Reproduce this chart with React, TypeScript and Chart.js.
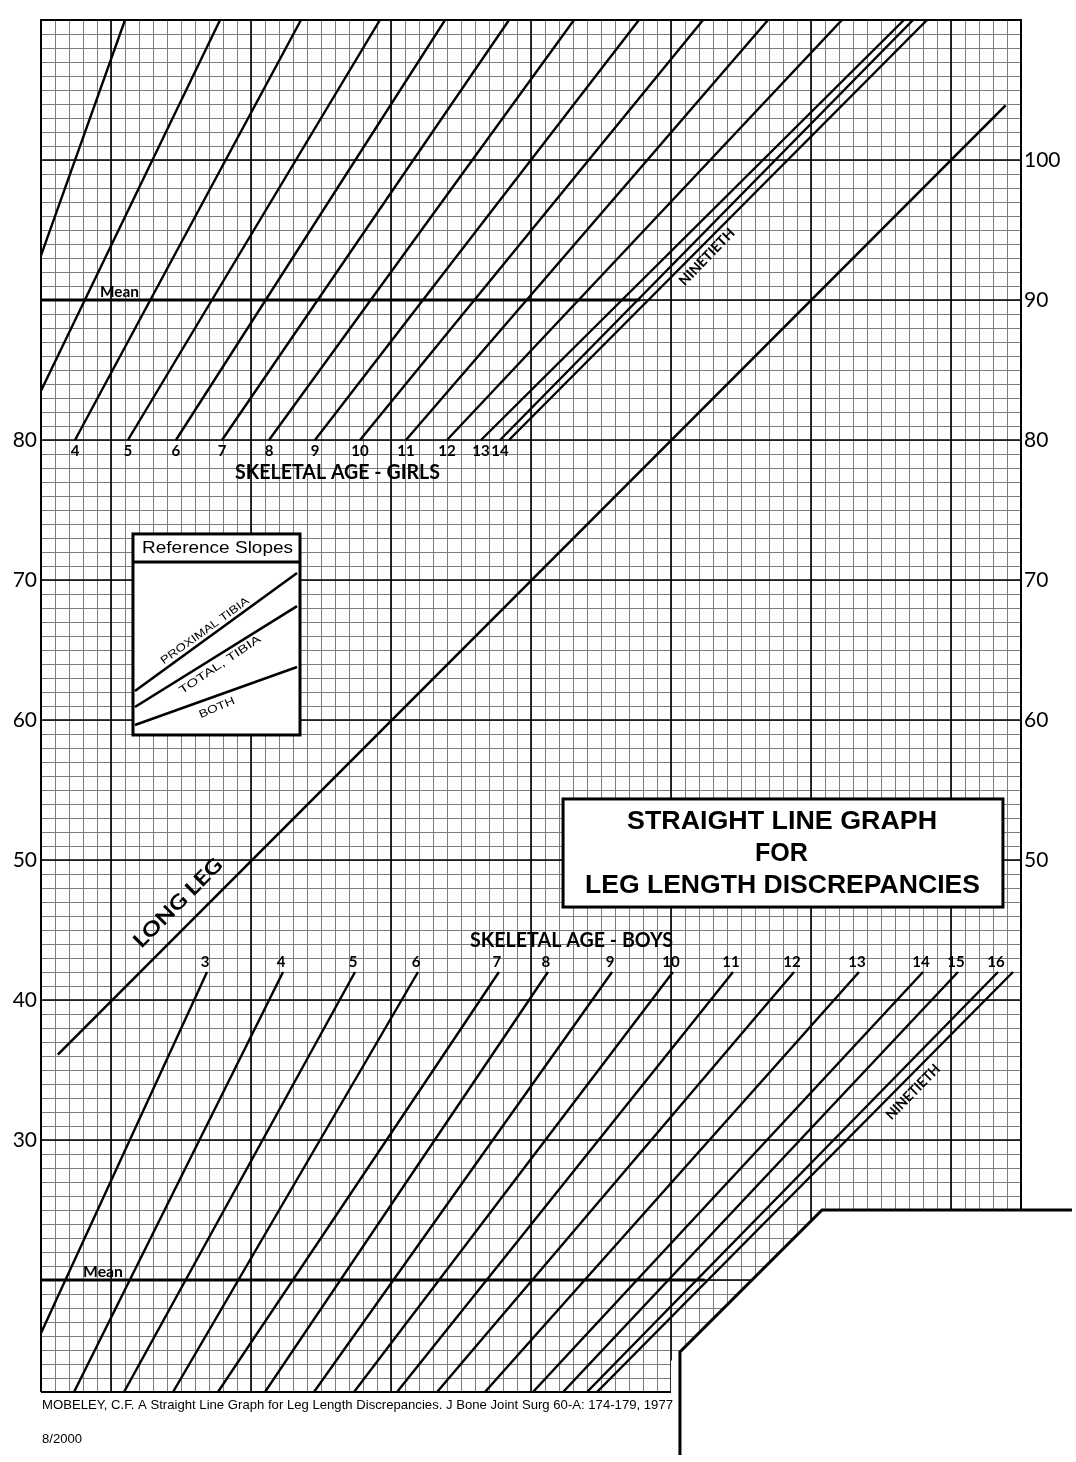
import { useEffect, useRef } from "react";
import { Chart, registerables } from "chart.js";

Chart.register(...registerables);

// ---- axis ranges (units of the Moseley graph) ----
const X_MIN = 35;
const X_MAX = 105;
const Y_MIN = 12;
const Y_MAX = 110;

const leftTickLabels = [80, 70, 60, 50, 40, 30];
const rightTickLabels = [100, 90, 80, 70, 60, 50];
const majorGridX = [40, 50, 60, 70, 80, 90, 100];
const majorGridY = [20, 30, 40, 50, 60, 70, 80, 90, 100];

// ---- Girls skeletal-age lines: x where each line meets y=80 and y=110 ----
const girlsAgeLabels = ["", "", "4", "5", "6", "7", "8", "9", "10", "11", "12", "13", "14", ""];
const girlsX80 = [30.3, 33.3, 37.43, 41.21, 44.64, 47.93, 51.29, 54.57, 57.79, 61.07, 64.0, 66.43, 67.79, 68.43];
const girlsX110 = [41.0, 47.79, 53.57, 59.21, 63.86, 68.43, 73.07, 77.71, 82.29, 86.93, 92.21, 96.64, 97.29, 98.29];

// ---- Boys skeletal-age lines: x where each line meets y=42 and y=12 ----
const boysAgeLabels = ["3", "4", "5", "6", "7", "8", "9", "10", "11", "12", "13", "14", "15", "16", ""];
const boysX42 = [46.86, 52.29, 57.43, 61.93, 67.71, 71.21, 75.79, 80.14, 84.43, 88.79, 93.43, 98.0, 100.5, 103.36, 104.43];
const boysX12 = [33.07, 37.36, 40.93, 44.43, 47.64, 51.0, 54.5, 57.36, 60.43, 63.29, 66.71, 70.14, 72.29, 74.0, 74.71];

// ---- Long leg line ----
const longLegX = [36.2, 103.9];
const longLegY = [36.1, 103.9];

// ---- Mean lines (girls, boys) ----
const meanY = [90, 20];
const meanEndX = [77.8, 82.4];

// ---- Reference slopes (inside legend box) ----
const refSlopeNames = ["PROXIMAL TIBIA", "TOTAL, TIBIA", "BOTH"];
const refSlopeX = [41.71, 53.29];
const refSlopeY0 = [62.07, 60.93, 59.64];
const refSlopeY1 = [70.5, 68.14, 63.79];

// ---- Cut-out corner boundary ----
const cutX = [80.64, 80.64, 90.79, 108.64];
const cutY = [7.5, 14.86, 25.0, 25.0];

type Txt = { t: string; x: number; y: number; font: string; w?: number; angle?: number; align?: CanvasTextAlign };

const texts: Txt[] = [
  { t: "Mean", x: 40.61, y: 90.57, font: "bold 15px Lato", w: 39 },
  { t: "Mean", x: 39.43, y: 20.57, font: "bold 15px Lato", w: 40 },
  { t: "SKELETAL AGE - GIRLS", x: 56.18, y: 77.71, font: "bold 21px Lato", w: 205 },
  { t: "SKELETAL AGE - BOYS", x: 72.89, y: 44.29, font: "bold 21px Lato", w: 203 },
  { t: "LONG LEG", x: 44.79, y: 46.93, font: "bold 20px Lato", w: 117, angle: -45 },
  { t: "NINETIETH", x: 82.57, y: 93.07, font: "bold 14px Lato", w: 73, angle: -46 },
  { t: "NINETIETH", x: 97.29, y: 33.43, font: "bold 14px Lato", w: 71, angle: -45.6 },
  { t: "STRAIGHT LINE GRAPH", x: 87.93, y: 52.71, font: "bold 25px 'Liberation Sans'", w: 310 },
  { t: "FOR", x: 87.89, y: 50.43, font: "bold 25px 'Liberation Sans'", w: 53 },
  { t: "LEG LENGTH DISCREPANCIES", x: 87.96, y: 48.14, font: "bold 25px 'Liberation Sans'", w: 395 },
  { t: "Reference Slopes", x: 47.61, y: 72.29, font: "17px 'Liberation Sans'", w: 151 },
  { t: refSlopeNames[0], x: 46.71, y: 66.36, font: "11px 'Liberation Sans'", w: 106, angle: -35.8 },
  { t: refSlopeNames[1], x: 47.79, y: 63.93, font: "11px 'Liberation Sans'", w: 96, angle: -34 },
  { t: refSlopeNames[2], x: 47.57, y: 60.86, font: "11px 'Liberation Sans'", w: 38, angle: -23 },
  {
    t: "MOBELEY, C.F. A Straight Line Graph for Leg Length Discrepancies. J Bone Joint Surg 60-A: 174-179, 1977",
    x: 35.07, y: 11.07, font: "13px 'Liberation Sans'", w: 631, align: "left",
  },
  { t: "8/2000", x: 35.07, y: 8.64, font: "13px 'Liberation Sans'", w: 40, align: "left" },
];

// boxes in data coords: [x0, x1, y0, y1]
const refBox = [41.57, 53.5, 58.93, 73.29];
const refBoxDivider = 71.29;
const titleBox = [72.29, 103.71, 46.64, 54.36];

function drawText(ctx: CanvasRenderingContext2D, s: string, x: number, y: number, font: string, w?: number, angle = 0, align: CanvasTextAlign = "center") {
  ctx.save();
  ctx.font = font;
  ctx.fillStyle = "#000";
  ctx.textBaseline = "middle";
  ctx.textAlign = align;
  ctx.translate(x, y);
  if (angle) ctx.rotate((angle * Math.PI) / 180);
  if (w) {
    const m = ctx.measureText(s).width;
    ctx.scale(w / m, 1);
  }
  ctx.fillText(s, 0, 0);
  ctx.restore();
}

const gridPlugin = {
  id: "moseleyGrid",
  beforeDraw(chart: any) {
    const { ctx } = chart;
    ctx.save();
    ctx.fillStyle = "#fff";
    ctx.fillRect(0, 0, chart.width, chart.height);
    ctx.restore();
  },
  beforeDatasetsDraw(chart: any) {
    const { ctx } = chart;
    const xs = chart.scales.x;
    const ys = chart.scales.y;
    const px = (v: number) => xs.getPixelForValue(v);
    const py = (v: number) => ys.getPixelForValue(v);
    const sn = (p: number) => Math.round(p) + 0.5;
    ctx.save();
    // minor grid
    ctx.strokeStyle = "#7c7c7c";
    ctx.lineWidth = 1;
    ctx.beginPath();
    for (let v = X_MIN + 1; v < X_MAX; v++) {
      const p = sn(px(v));
      ctx.moveTo(p, py(Y_MAX));
      ctx.lineTo(p, py(Y_MIN));
    }
    for (let v = Y_MIN + 1; v < Y_MAX; v++) {
      const p = sn(py(v));
      ctx.moveTo(px(X_MIN), p);
      ctx.lineTo(px(X_MAX), p);
    }
    ctx.stroke();
    // major grid
    ctx.strokeStyle = "#000";
    ctx.lineWidth = 1.6;
    ctx.beginPath();
    majorGridX.forEach((v) => {
      const p = px(v);
      ctx.moveTo(p, py(Y_MAX));
      ctx.lineTo(p, py(Y_MIN));
    });
    majorGridY.forEach((v) => {
      const p = py(v);
      ctx.moveTo(px(X_MIN), p);
      ctx.lineTo(px(X_MAX), p);
    });
    ctx.stroke();
    // cut-out corner
    ctx.fillStyle = "#fff";
    ctx.beginPath();
    ctx.moveTo(px(80), py(Y_MIN - 2));
    ctx.lineTo(px(80), py(cutY[1] - (cutX[1] - 80)));
    ctx.lineTo(px(cutX[2]), py(cutY[2]));
    ctx.lineTo(px(X_MAX + 5), py(cutY[3]));
    ctx.lineTo(px(X_MAX + 5), py(Y_MIN - 2));
    ctx.closePath();
    ctx.fill();
    // borders
    ctx.strokeStyle = "#000";
    ctx.lineWidth = 2;
    ctx.beginPath();
    ctx.moveTo(px(X_MIN), py(Y_MIN));
    ctx.lineTo(px(X_MIN), py(Y_MAX));
    ctx.lineTo(px(X_MAX), py(Y_MAX));
    ctx.lineTo(px(X_MAX), py(cutY[3]));
    ctx.moveTo(px(X_MIN), py(Y_MIN));
    ctx.lineTo(px(80), py(Y_MIN));
    ctx.stroke();
    ctx.lineWidth = 3;
    ctx.beginPath();
    ctx.moveTo(px(cutX[0]), py(cutY[0]));
    for (let i = 1; i < cutX.length; i++) ctx.lineTo(px(cutX[i]), py(cutY[i]));
    ctx.stroke();
    // boxes
    const box = (b: number[]) => {
      const x0 = px(b[0]), x1 = px(b[1]), y0 = py(b[3]), y1 = py(b[2]);
      ctx.fillStyle = "#fff";
      ctx.fillRect(x0, y0, x1 - x0, y1 - y0);
      ctx.lineWidth = 3;
      ctx.strokeStyle = "#000";
      ctx.strokeRect(x0, y0, x1 - x0, y1 - y0);
    };
    box(refBox);
    ctx.beginPath();
    ctx.moveTo(px(refBox[0]), py(refBoxDivider));
    ctx.lineTo(px(refBox[1]), py(refBoxDivider));
    ctx.stroke();
    box(titleBox);
    ctx.restore();
  },
  afterDatasetsDraw(chart: any) {
    const { ctx } = chart;
    const xs = chart.scales.x;
    const ys = chart.scales.y;
    const px = (v: number) => xs.getPixelForValue(v);
    const py = (v: number) => ys.getPixelForValue(v);
    // axis tick labels
    leftTickLabels.forEach((v) => drawText(ctx, String(v), px(X_MIN) - 4, py(v), "21px Lato", undefined, 0, "right"));
    rightTickLabels.forEach((v) => drawText(ctx, String(v), px(X_MAX) + 3, py(v), "21px Lato", undefined, 0, "left"));
    // age labels
    girlsAgeLabels.forEach((s, i) => {
      if (s) drawText(ctx, s, px(girlsX80[i]), py(80) + 11, "bold 15px Lato");
    });
    boysAgeLabels.forEach((s, i) => {
      if (s) drawText(ctx, s, px(boysX42[i]) - 2, py(42) - 10, "bold 15px Lato");
    });
    texts.forEach((t) => drawText(ctx, t.t, px(t.x), py(t.y), t.font, t.w, t.angle || 0, t.align || "center"));
  },
};

export default function App() {
  const ref = useRef<HTMLCanvasElement>(null);
  useEffect(() => {
    const canvas = ref.current;
    if (!canvas) return;
    const datasets: any[] = [];
    const addLine = (pts: { x: number; y: number }[], w = 2.4) =>
      datasets.push({
        data: pts,
        showLine: true,
        borderColor: "#000",
        backgroundColor: "#000",
        borderWidth: w,
        pointRadius: 0,
        fill: false,
      });
    girlsX80.forEach((x, i) => addLine([{ x, y: 80 }, { x: girlsX110[i], y: 110 }]));
    boysX42.forEach((x, i) => addLine([{ x, y: 42 }, { x: boysX12[i], y: 12 }]));
    addLine([{ x: longLegX[0], y: longLegY[0] }, { x: longLegX[1], y: longLegY[1] }], 2.6);
    meanY.forEach((v, i) => addLine([{ x: X_MIN, y: v }, { x: meanEndX[i], y: v }], 3));
    refSlopeY0.forEach((y0, i) => addLine([{ x: refSlopeX[0], y: y0 }, { x: refSlopeX[1], y: refSlopeY1[i] }], 2.6));

    const chart = new Chart(canvas, {
      type: "scatter",
      data: { datasets },
      options: {
        responsive: false,
        animation: false,
        devicePixelRatio: 1,
        events: [],
        layout: { padding: { left: 41, top: 20, right: 55, bottom: 70 } },
        plugins: { legend: { display: false }, tooltip: { enabled: false } },
        scales: {
          x: { type: "linear", min: X_MIN, max: X_MAX, display: false },
          y: { type: "linear", min: Y_MIN, max: Y_MAX, display: false },
        },
      },
      plugins: [gridPlugin],
    } as any);
    return () => chart.destroy();
  }, []);
  return (
    <canvas
      ref={ref}
      width={1076}
      height={1462}
      style={{ position: "absolute", left: 0, top: 0, width: 1076, height: 1462 }}
    />
  );
}
